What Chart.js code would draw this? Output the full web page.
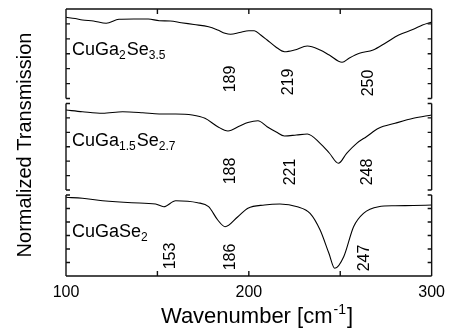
<!DOCTYPE html>
<html><head><meta charset="utf-8">
<script src="https://cdn.jsdelivr.net/npm/chart.js@4/dist/chart.umd.min.js"></script>
<style>html,body{margin:0;padding:0;background:#fff}</style>
</head><body>
<canvas id="c" width="452" height="329"></canvas>
<script>
// ---- data (wavenumber in cm^-1, normalized transmission, arbitrary units) ----
const wnTop = [100,105,109,115,122,129,137,145,151,157,163,170,178,183,187,190,195,200,203,206.5,210,214.6,219.5,225,232,239,244,251,255,260.5,268,275,282,290,295,300];
const trTop = [.827,.815,.80,.79,.767,.807,.81,.81,.793,.79,.773,.755,.733,.70,.667,.657,.675,.693,.693,.65,.60,.533,.483,.50,.54,.50,.45,.377,.42,.467,.50,.573,.65,.707,.75,.78];

const wnMid = [100,109,120,131,142,151,160,169,176,183,188.6,195,199.5,205,210,215,219.5,226,232,239,244,249,253.5,259,264.3,271,280,290,300];
const trMid = [.90,.883,.867,.883,.873,.86,.86,.85,.817,.733,.69,.74,.775,.793,.733,.68,.64,.65,.66,.567,.47,.367,.467,.567,.633,.717,.767,.817,.85];

const wnBot = [100,109,120,136,149,153.5,160,172,178,183,187,194,199.5,208.6,217,226.5,233.5,239,243.8,247,251.9,257.3,262.7,271,280,290,300];
const trBot = [.927,.917,.893,.873,.86,.833,.893,.873,.833,.70,.633,.733,.817,.85,.86,.833,.767,.60,.367,.217,.333,.633,.767,.833,.843,.845,.85];

const peaksTop = ['189','219','250'];
const peaksMid = ['188','221','248'];
const peaksBot = ['153','186','247'];

const xTicks = [100,150,200,250,300];

// ---- layout (label placement, not data) ----
const FONT = '"Liberation Sans", Arial, Helvetica, sans-serif';
const panels = [
  {axis:'yTop', name:[['CuGa',0],['2',1],['Se',0],['3.5',1]], nameY:0.45,
   peaks:peaksTop, at:[[190.3,0.21],[222,0.18],[265.4,0.17]]},
  {axis:'yMid', name:[['CuGa',0],['1.5',1],['Se',0],['2.7',1]], nameY:0.54,
   peaks:peaksMid, at:[[190.3,0.29],[222.7,0.28],[264.9,0.28]]},
  {axis:'yBot', name:[['CuGaSe',0],['2',1]], nameY:0.53,
   peaks:peaksBot, at:[[157.3,0.34],[190.3,0.33],[263.2,0.32]]}
];

function pts(xs, ys){ return xs.map((x,i)=>({x:x, y:ys[i]})); }

const decor = {
  id:'decor',
  afterDraw(chart){
    const ctx = chart.ctx, ca = chart.chartArea, xs = chart.scales.x;
    const L = ca.left, R = ca.right, gap = 2.5;
    ctx.save();
    ctx.strokeStyle = '#111'; ctx.lineWidth = 1.4; ctx.lineCap = 'butt';
    panels.forEach((p, k) => {
      const s = chart.scales[p.axis];
      const top = s.top + (k === 0 ? 0 : gap);
      const bot = s.bottom - (k === panels.length-1 ? 0 : gap);
      ctx.beginPath();
      ctx.moveTo(L, top); ctx.lineTo(L, bot);
      ctx.moveTo(R, top); ctx.lineTo(R, bot);
      if (k === 0) { ctx.moveTo(L, top); ctx.lineTo(R, top); }
      if (k === panels.length-1) { ctx.moveTo(L, bot); ctx.lineTo(R, bot); }
      const n = Math.max(1, Math.round((bot-top)/13.9));
      const step = (bot-top)/n;
      for (let i=0;i<=n;i++){
        const y = top + i*step;
        ctx.moveTo(L, y); ctx.lineTo(L+4, y);
        ctx.moveTo(R, y); ctx.lineTo(R-4, y);
      }
      xTicks.forEach(v => {
        const x = xs.getPixelForValue(v);
        if (k === 0) { ctx.moveTo(x, top); ctx.lineTo(x, top+5); }
        if (k === panels.length-1) { ctx.moveTo(x, bot); ctx.lineTo(x, bot-5); }
      });
      ctx.stroke();

      // compound name with subscripts
      ctx.fillStyle = '#000';
      ctx.textBaseline = 'alphabetic'; ctx.textAlign = 'left';
      let x = L + 6; const yb = s.getPixelForValue(p.nameY);
      p.name.forEach(([t, sub]) => {
        ctx.font = (sub ? '12px ' : '18px ') + FONT;
        ctx.fillText(t, x, yb + (sub ? 4 : 0));
        x += ctx.measureText(t).width + (sub ? 1 : 0);
      });

      // rotated peak labels
      ctx.font = '16px ' + FONT;
      ctx.textAlign = 'center'; ctx.textBaseline = 'middle';
      p.peaks.forEach((t, i) => {
        const px = xs.getPixelForValue(p.at[i][0]);
        const py = s.getPixelForValue(p.at[i][1]);
        ctx.save(); ctx.translate(px, py); ctx.rotate(-Math.PI/2);
        ctx.fillText(t, 0, 0); ctx.restore();
      });
    });

    // y title
    ctx.fillStyle = '#000';
    ctx.font = '20px ' + FONT;
    ctx.textAlign = 'center'; ctx.textBaseline = 'alphabetic';
    ctx.save(); ctx.translate(31, 145); ctx.rotate(-Math.PI/2);
    ctx.fillText('Normalized Transmission', 0, 0); ctx.restore();

    // x title with superscript
    const parts = [['Wavenumber [cm',0],['-1',1],[']',0]];
    let w = 0;
    parts.forEach(([t,sup]) => { ctx.font = (sup?'14px ':'22px ') + FONT; w += ctx.measureText(t).width + (sup?2:0); });
    let x = 257 - w/2; const yb = 323;
    ctx.textAlign = 'left';
    parts.forEach(([t,sup]) => {
      ctx.font = (sup?'14px ':'22px ') + FONT;
      ctx.fillText(t, x + (sup?1:0), yb - (sup?9:0));
      x += ctx.measureText(t).width + (sup?2:0);
    });
    ctx.restore();
  }
};

const lineStyle = {borderColor:'#000', borderWidth:1.1, pointRadius:0, fill:false, cubicInterpolationMode:'monotone'};

new Chart(document.getElementById('c'), {
  type:'line',
  data:{datasets:[
    Object.assign({label:'CuGa2Se3.5', data:pts(wnTop,trTop), yAxisID:'yTop'}, lineStyle),
    Object.assign({label:'CuGa1.5Se2.7', data:pts(wnMid,trMid), yAxisID:'yMid'}, lineStyle),
    Object.assign({label:'CuGaSe2', data:pts(wnBot,trBot), yAxisID:'yBot'}, lineStyle)
  ]},
  options:{
    responsive:false, animation:false, devicePixelRatio:1,
    layout:{padding:{left:66, right:16, top:9, bottom:0}},
    plugins:{legend:{display:false}, tooltip:{enabled:false}},
    scales:{
      x:{type:'linear', min:100, max:300,
         ticks:{stepSize:100, color:'#000', font:{family:FONT, size:16}, padding:7, maxRotation:0},
         grid:{display:false, drawTicks:false}, border:{display:false},
         afterFit(s){ s.height = 53; }},
      yBot:{type:'linear', display:false, stack:'p', stackWeight:83.5, min:0.14, max:0.975},
      yMid:{type:'linear', display:false, stack:'p', stackWeight:91.5, min:0.075, max:0.99},
      yTop:{type:'linear', display:false, stack:'p', stackWeight:92, min:-0.01, max:0.91}
    }
  },
  plugins:[decor]
});
</script>
</body></html>
